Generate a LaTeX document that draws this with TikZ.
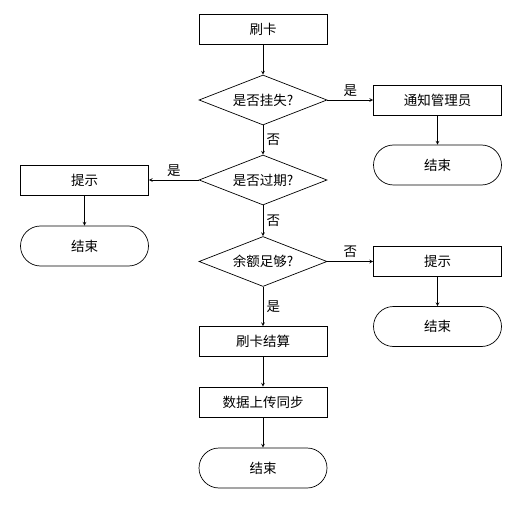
\documentclass[tikz,border=0pt]{standalone}
\usepackage{fontspec}
\newfontfamily\cjk{Noto Sans CJK SC}
\usetikzlibrary{positioning,shapes.geometric,shapes.misc}

\begin{document}
\begin{tikzpicture}[->,>=stealth,on grid,auto,line width=0.7pt,
    font=\cjk\fontsize{13.5}{16}\selectfont,
    box/.style={rectangle,draw,minimum width=128pt,minimum height=30pt,inner sep=0pt},
    check/.style={diamond,draw,aspect=2.56,minimum width=128pt,minimum height=50pt,inner sep=0pt},
    stop/.style={rounded rectangle,draw,minimum width=128pt,minimum height=40pt,inner sep=0pt}]
    \useasboundingbox (0pt,0pt) rectangle (522pt,-505pt);
			\node[box] (card) at (263pt,-29pt) {刷卡};
			\node[check] (lost) [below=71pt of card] {是否挂失?};
			\node[box] (notify) [right=174.5pt of lost] {通知管理员};
			\node[stop] (endA) [below=65pt of notify] {结束};
			\node[check] (expire) [below=80pt of lost] {是否过期?};
			\node[box] (hintL) [left=178.5pt of expire] {提示};
			\node[stop] (endB) [below=66pt of hintL] {结束};
			\node[check] (money) [below=81.5pt of expire] {余额足够?};
			\node[box] (hintR) [right=174.5pt of money] {提示};
			\node[stop] (endC) [below=65pt of hintR] {结束};
			\node[box] (pay) [below=80pt of money] {刷卡结算};
			\node[box] (sync) [below=60.5pt of pay] {数据上传同步};
			\node[stop] (endD) [below=66pt of sync] {结束};
			\path
				(card) edge (lost)
				(lost) edge node {是} (notify)
				(notify) edge (endA)
				(lost) edge node {否} (expire)
				(expire) edge node[swap] {是} (hintL)
				(hintL) edge (endB)
				(expire) edge node {否} (money)
				(money) edge node {否} (hintR)
				(hintR) edge (endC)
				(money) edge node {是} (pay)
				(pay) edge (sync)
				(sync) edge (endD);
		\end{tikzpicture}
\end{document}
